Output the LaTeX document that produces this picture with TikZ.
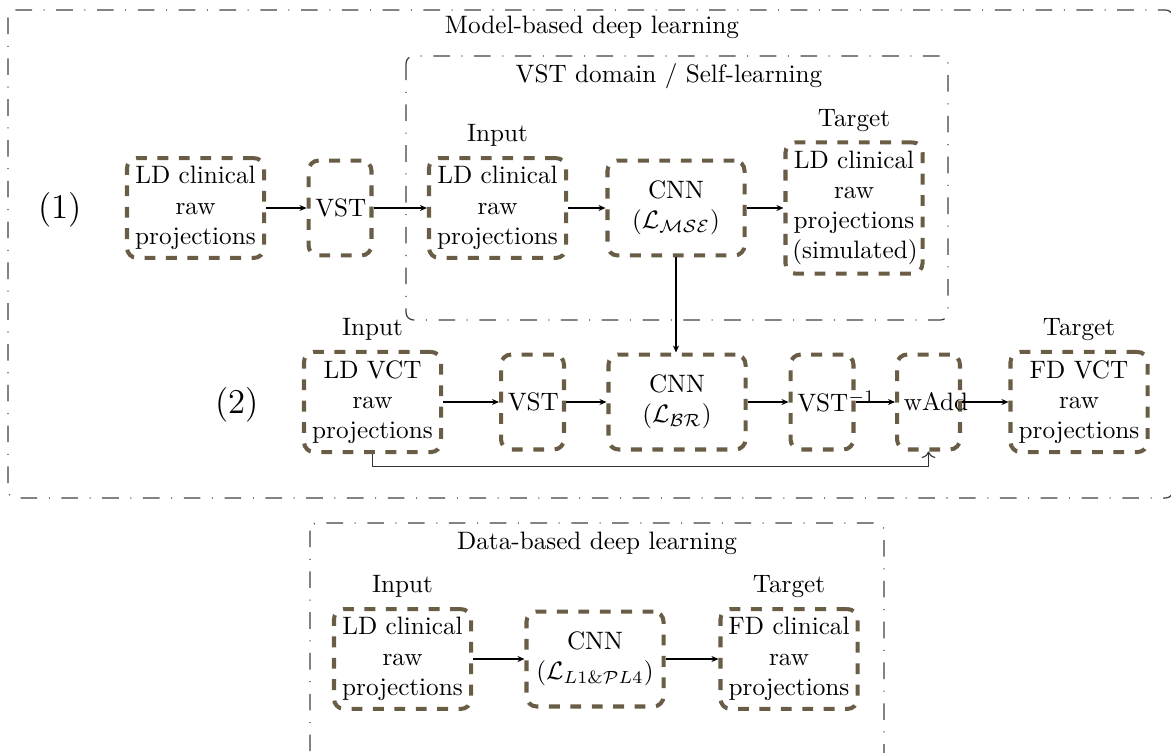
\documentclass[tikz,border=0pt]{standalone}
\usetikzlibrary{arrows.meta}
\definecolor{boxcol}{RGB}{105,93,70}
\begin{document}
\begin{tikzpicture}[x=0.397pt,y=-0.397pt,
  frame/.style={draw=black!75, line width=0.5pt, dash pattern=on 6.6pt off 4.6pt on 0.4pt off 4.6pt, rounded corners=3pt},
  bigbox/.style={draw=boxcol, line width=1.6pt, dash pattern=on 4.3pt off 4.2pt, rounded corners=4pt, align=center, text width=49pt, minimum height=37.7pt, inner xsep=2.7pt, inner ysep=3.33pt},
  smallbox/.style={bigbox, text width=19.6pt},
  arr/.style={-{Stealth[length=2.8pt,width=2.4pt]}, line width=0.45pt},
  fb/.style={->, line width=0.45pt, black!80},
  title/.style={inner sep=0pt},
  tag/.style={inner sep=0pt, anchor=base},
  num/.style={font=\fontsize{13.8}{16}\selectfont}
]
\useasboundingbox (0,0) rectangle (1171,752);
% frames
\draw[frame] (8,10) rectangle (1173,498);
\draw[frame] (406,56) rectangle (948,320);
\draw[frame] (310,523) rectangle (884,770);
\node[title] (t1) at (592,27) {Model-based deep learning};
\node[title] (t2) at (669,76) {VST domain / Self-learning};
\node[title] (t3) at (597,543) {Data-based deep learning};
\node[num] (n1) at (60,210) {(1)};
\node[num] (n2) at (237,405) {(2)};
% row 1
\node[bigbox] (a1) at (195.5,208) {LD clinical\\raw\\projections};
\node[smallbox] (a2) at (340,208) {VST};
\node[bigbox] (a3) at (497.5,208) {LD clinical\\raw\\projections};
\node[bigbox] (a4) at (676,208) {CNN\\($\mathcal{L}_{\mathcal{MSE}}$)};
\node[bigbox] (a5) at (854,208) {LD clinical\\raw\\projections\\(simulated)};
\node[tag] (la3) at ([yshift=5.6pt]a3.north) {Input};
\node[tag] (la5) at ([yshift=5.6pt]a5.north) {Target};
% row 2
\node[bigbox] (b1) at (372.5,402) {LD VCT\\raw\\projections};
\node[smallbox] (b2) at (532.5,402) {VST};
\node[bigbox] (b3) at (677,402) {CNN\\($\mathcal{L}_{\mathcal{BR}}$)};
\node[smallbox] (b4) at (822,402) {VST$^{-1}$};
\node[smallbox] (b5) at (928.5,402) {wAdd};
\node[bigbox] (b6) at (1079,402) {FD VCT\\raw\\projections};
\node[tag] (lb1) at ([yshift=5.6pt]b1.north) {Input};
\node[tag] (lb6) at ([yshift=5.6pt]b6.north) {Target};
% row 3
\node[bigbox] (c1) at (402.5,659) {LD clinical\\raw\\projections};
\node[bigbox] (c2) at (595,659) {CNN\\($\mathcal{L}_{L1\&\mathcal{P}L4}$)};
\node[bigbox] (c3) at (789,659) {FD clinical\\raw\\projections};
\node[tag] (lc1) at ([yshift=5.6pt]c1.north) {Input};
\node[tag] (lc3) at ([yshift=5.6pt]c3.north) {Target};
% connectors
\draw[arr] (a1) -- (a2);
\draw[arr] (a2) -- (a3);
\draw[arr] (a3) -- (a4);
\draw[arr] (a4) -- (a5);
\draw[arr] (a4.south) -- (a4.south |- b3.north);
\draw[arr] (b1) -- (b2);
\draw[arr] (b2) -- (b3);
\draw[arr] (b3) -- (b4);
\draw[arr] (b4) -- (b5);
\draw[arr] (b5) -- (b6);
\draw[fb] (b1.south) -- ++(0,12) -| (b5.south);
\draw[arr] (c1) -- (c2);
\draw[arr] (c2) -- (c3);
\end{tikzpicture}
\end{document}
